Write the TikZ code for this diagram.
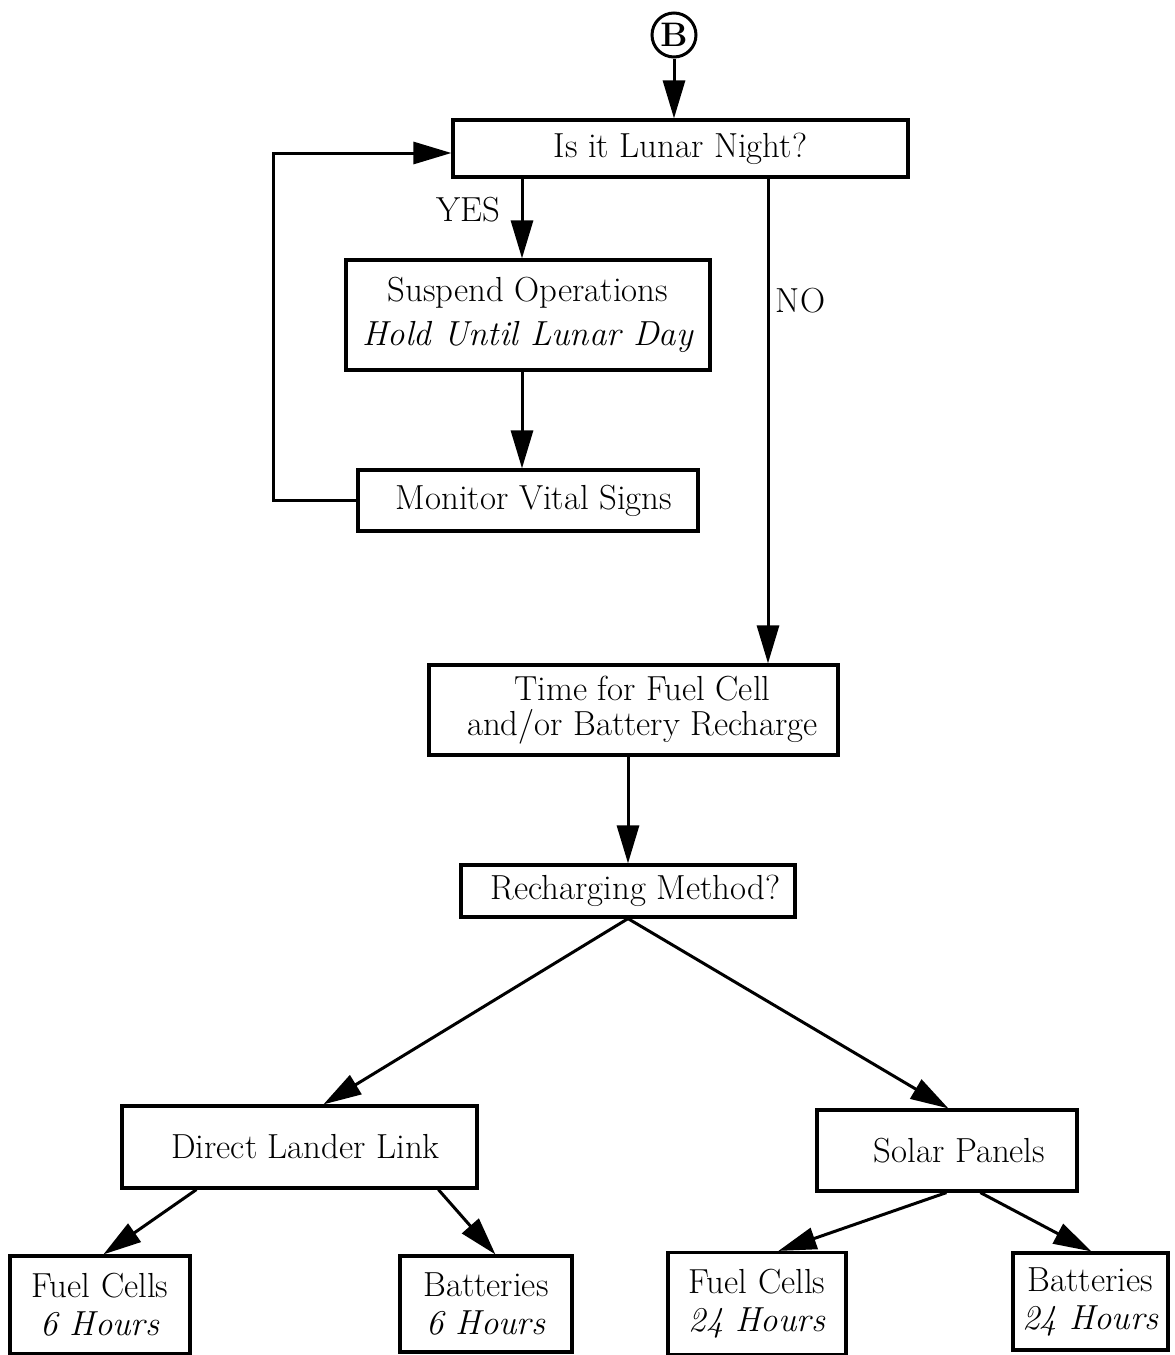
\documentclass[tikz,border=0pt]{standalone}
\usetikzlibrary{arrows.meta}
\begin{document}
\begin{tikzpicture}[x=0.5pt,y=-0.5pt,
  box/.style={draw,line width=1.6pt,rectangle,inner sep=0pt,align=center,
    font=\fontsize{17.4}{17.5}\selectfont},
  twol/.style={font=\fontsize{17.4}{19}\selectfont},
  arr/.style={line width=1.5pt,-{Triangle[length=19pt,width=11pt]}},
  lbl/.style={font=\fontsize{17.4}{18}\selectfont,inner sep=0pt}]
\useasboundingbox (0,0) rectangle (1174,1355);
\node[draw,circle,line width=1.5pt,minimum size=22pt,inner sep=0pt,font=\fontsize{17}{18}\selectfont\bfseries] (B) at (674,35) {B};
\node[box,minimum width=227.5pt,minimum height=28.5pt] (q1) at (680.5,148.5) {Is it Lunar Night?};
\node[box,minimum width=182pt,minimum height=55pt,font=\fontsize{17.4}{22}\selectfont] (susp) at (528,315) {Suspend Operations\\\textit{Hold Until Lunar Day}};
\node[box,minimum width=170pt,minimum height=30.5pt] (mon) at (528,500.5) {\hspace*{6pt}Monitor Vital Signs};
\node[box,minimum width=204.5pt,minimum height=45pt] (time) at (633.5,710) {\hspace*{9pt}Time for Fuel Cell\\\hspace*{9pt}and/or Battery Recharge};
\node[box,minimum width=167pt,minimum height=26pt] (rech) at (628,891) {\hspace*{7.5pt}Recharging Method?};
\node[box,minimum width=177.5pt,minimum height=41pt] (dll) at (299.5,1147) {\hspace*{6pt}Direct Lander Link};
\node[box,minimum width=130pt,minimum height=40.5pt] (sol) at (947,1150.5) {\hspace*{12.5pt}Solar Panels};
\node[box,twol,minimum width=90pt,minimum height=49pt] (fc6) at (100,1305) {Fuel Cells\\\textit{6 Hours}};
\node[box,twol,minimum width=86pt,minimum height=48pt] (bat6) at (486,1304) {Batteries\\\textit{6 Hours}};
\node[box,twol,minimum width=89pt,minimum height=51pt] (fc24) at (757,1303.5) {Fuel Cells\\\textit{24 Hours}};
\node[box,twol,minimum width=77.5pt,minimum height=48.5pt] (bat24) at (1090.5,1301.5) {Batteries\\\textit{24 Hours}};
\node[lbl] (yes) at (468,210) {YES};
\node[lbl] (no) at (800.5,301) {NO};
\coordinate (yx) at (522,0);
\coordinate (nx) at (768,0);
\coordinate (lp) at (273,153);
\draw[arr] (B.south) -- (B.south |- q1.north);
\draw[arr] (mon.west) -| (lp) -- (lp -| q1.west);
\draw[arr] (q1.south -| yx) -- (susp.north -| yx);
\draw[arr] (susp.south -| yx) -- (mon.north -| yx);
\draw[arr] (q1.south -| nx) -- (time.north -| nx);
\draw[arr] (time.south -| rech.north) -- (rech.north);
\draw[arr] (rech.south) -- ([xshift=101.5pt]dll.north west);
\draw[arr] (rech.south) -- ([xshift=66.5pt]sol.north west);
\draw[arr] ([xshift=38pt]dll.south west) -- ([xshift=47.5pt]fc6.north west);
\draw[arr] ([xshift=159pt]dll.south west) -- ([xshift=48.5pt]bat6.north west);
\draw[arr] ([xshift=65.5pt]sol.south west) -- ([xshift=56pt]fc24.north west);
\draw[arr] ([xshift=82.5pt]sol.south west) -- ([xshift=40pt]bat24.north west);
\end{tikzpicture}
\end{document}
